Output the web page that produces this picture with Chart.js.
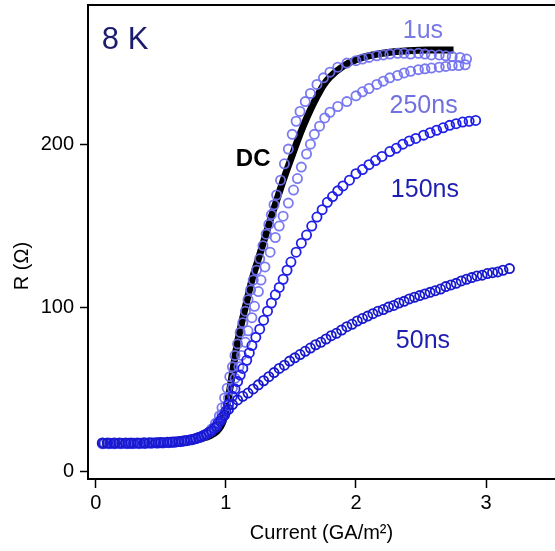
<!DOCTYPE html>
<html>
<head>
<meta charset="utf-8">
<script src="https://cdn.jsdelivr.net/npm/chart.js@4.4.1/dist/chart.umd.min.js"></script>
<style>
  html, body { margin: 0; padding: 0; background: #fff; }
</style>
</head>
<body>
<canvas id="g_resistencia" width="555" height="551"></canvas>
<script>
// R x corrente a 8 K: curva DC e pulsos de 50ns, 150ns, 250ns e 1us
const ticks_x = [0, 1, 2, 3]
const ticks_y = [0, 100, 200]

const curva_dc = [
  [0.05,17.0],[0.2,17.0],[0.4,17.2],[0.55,17.5],[0.65,18.0],[0.75,19.0],[0.82,20.3],[0.88,22.0],
  [0.93,24.5],[0.96,27.5],[0.98,31.0],[1.0,37.0],[1.02,45.5],[1.05,60.0],[1.08,75.0],[1.11,87.0],
  [1.16,104.0],[1.2,117.0],[1.25,130.0],[1.3,143.0],[1.35,156.0],[1.4,168.0],[1.45,180.0],[1.5,191.0],
  [1.55,202.0],[1.6,212.0],[1.65,221.0],[1.7,229.0],[1.75,236.0],[1.8,241.0],[1.9,247.5],[2.0,251.5],
  [2.1,254.0],[2.25,256.0],[2.4,257.0],[2.55,257.5],[2.75,257.5]
]

const pulso_1us = [
  [0.05,17.0],[0.10,17.0],[0.14,17.0],[0.19,17.0],[0.24,17.0],[0.28,17.1],[0.33,17.1],[0.37,17.2],
  [0.42,17.3],[0.47,17.4],[0.51,17.5],[0.56,17.7],[0.60,18.0],[0.65,18.3],[0.70,18.8],[0.74,19.5],
  [0.78,20.5],[0.82,21.8],[0.86,23.5],[0.89,26.0],[0.92,29.5],[0.95,34.0],[0.97,39.0],[0.99,45.0],
  [1.01,51.0],[1.03,58.0],[1.05,64.0],[1.07,71.0],[1.09,78.0],[1.11,85.0],[1.13,91.0],[1.15,98.0],
  [1.17,105.0],[1.19,111.0],[1.21,117.0],[1.235,123.0],[1.26,130.0],[1.285,138.0],[1.31,145.0],[1.33,151.0],
  [1.35,157.0],[1.37,163.0],[1.39,169.0],[1.42,178.0],[1.45,188.0],[1.48,197.0],[1.51,206.0],[1.54,214.0],
  [1.57,220.0],[1.61,226.0],[1.65,231.0],[1.70,236.5],[1.75,240.5],[1.80,244.0],[1.86,247.0],[1.93,249.5],
  [2.00,251.0],[2.05,252.0],[2.10,253.0],[2.16,254.0],[2.21,254.5],[2.26,255.0],[2.32,255.5],[2.37,255.5],
  [2.42,255.0],[2.48,255.5],[2.53,255.0],[2.58,254.5],[2.64,254.5],[2.69,254.0],[2.74,253.5],[2.80,253.0],
  [2.85,252.0]
]

const pulso_250ns = [
  [0.07,17.2],[0.12,17.2],[0.16,17.2],[0.21,17.2],[0.26,17.2],[0.30,17.3],[0.35,17.3],[0.39,17.4],
  [0.44,17.5],[0.49,17.6],[0.53,17.7],[0.58,17.9],[0.62,18.2],[0.67,18.6],[0.71,19.2],[0.76,20.0],
  [0.80,21.0],[0.84,22.5],[0.88,24.5],[0.91,27.0],[0.94,30.5],[0.97,35.0],[1.00,40.0],[1.02,45.0],
  [1.05,51.0],[1.07,57.0],[1.10,64.0],[1.12,71.0],[1.15,79.0],[1.17,86.0],[1.20,94.0],[1.22,101.0],
  [1.25,110.0],[1.27,117.0],[1.30,125.0],[1.34,134.0],[1.38,143.0],[1.41,150.0],[1.44,156.0],[1.48,164.0],
  [1.52,172.0],[1.55,179.0],[1.58,186.0],[1.62,194.0],[1.65,200.0],[1.68,206.0],[1.72,211.0],[1.76,216.0],
  [1.80,219.5],[1.86,223.0],[1.93,226.0],[2.00,229.5],[2.05,232.0],[2.10,234.0],[2.16,236.5],[2.21,238.5],
  [2.26,240.5],[2.32,242.0],[2.37,243.5],[2.42,244.5],[2.48,245.5],[2.53,246.0],[2.58,246.5],[2.64,247.0],
  [2.69,247.5],[2.74,248.0],[2.79,248.0],[2.84,248.5]
]

const pulso_150ns = [
  [0.06,17.3],[0.11,17.3],[0.15,17.3],[0.20,17.3],[0.25,17.3],[0.29,17.3],[0.34,17.4],[0.38,17.4],
  [0.43,17.5],[0.48,17.6],[0.52,17.7],[0.57,17.9],[0.61,18.1],[0.66,18.5],[0.70,19.0],[0.75,19.8],
  [0.79,20.8],[0.83,22.2],[0.87,24.0],[0.91,26.5],[0.94,29.5],[0.97,33.0],[1.00,37.0],[1.02,41.0],
  [1.05,46.0],[1.07,50.5],[1.09,55.0],[1.11,59.0],[1.13,63.0],[1.16,68.0],[1.18,72.5],[1.20,77.0],
  [1.23,82.0],[1.26,87.0],[1.29,92.5],[1.32,98.0],[1.35,103.0],[1.38,108.0],[1.41,112.5],[1.44,117.5],
  [1.47,123.0],[1.50,128.0],[1.54,134.0],[1.58,139.5],[1.62,144.5],[1.66,150.0],[1.70,155.5],[1.74,160.0],
  [1.78,164.5],[1.82,168.0],[1.86,171.5],[1.90,174.5],[1.95,178.0],[2.00,182.0],[2.05,184.5],[2.10,187.5],
  [2.15,190.0],[2.20,192.5],[2.26,195.5],[2.31,197.5],[2.36,200.0],[2.41,202.0],[2.46,203.5],[2.52,205.5],
  [2.57,207.0],[2.62,208.5],[2.67,210.0],[2.72,211.5],[2.77,212.5],[2.82,213.5],[2.87,214.0],[2.92,214.5]
]

const pulso_50ns = [
  [0.05,17.5],[0.09,17.5],[0.14,17.5],[0.18,17.5],[0.23,17.5],[0.27,17.5],[0.32,17.5],[0.37,17.6],
  [0.41,17.6],[0.46,17.7],[0.50,17.8],[0.55,17.9],[0.59,18.1],[0.64,18.4],[0.68,18.8],[0.73,19.4],
  [0.77,20.2],[0.81,21.3],[0.85,22.8],[0.89,24.8],[0.93,27.5],[0.96,31.0],[0.99,34.5],[1.02,38.0],
  [1.05,41.0],[1.09,43.8],[1.13,46.0],[1.17,48.0],[1.21,50.5],[1.25,53.0],[1.29,55.5],[1.33,58.0],
  [1.37,60.5],[1.41,63.0],[1.45,65.0],[1.49,67.5],[1.53,69.5],[1.57,71.5],[1.61,73.5],[1.65,75.5],
  [1.69,77.5],[1.73,79.0],[1.77,81.0],[1.81,83.0],[1.85,84.5],[1.89,86.5],[1.93,88.5],[1.97,90.0],
  [2.01,92.0],[2.05,93.5],[2.09,95.0],[2.13,96.5],[2.17,98.0],[2.21,99.0],[2.25,100.5],[2.29,101.5],
  [2.33,103.0],[2.37,104.0],[2.41,105.5],[2.45,106.5],[2.49,107.5],[2.53,108.5],[2.57,109.5],[2.61,110.5],
  [2.65,111.5],[2.69,113.0],[2.73,114.0],[2.77,115.0],[2.81,116.5],[2.85,117.5],[2.89,118.5],[2.93,119.5],
  [2.97,120.0],[3.01,121.0],[3.05,121.5],[3.09,122.0],[3.13,123.0],[3.18,124.0]
]

// textos soltos dentro do grafico, em coordenadas dos dados
const rotulos = [
  {texto: '8 K',   x: 0.046, y: 263.5, cor: '#1c1c6e', fonte: '31px "Liberation Sans", Arial, sans-serif', alinhamento: 'left'},
  {texto: '1us',   x: 2.515, y: 269,   cor: '#7a7ae6', fonte: '25px "Liberation Sans", Arial, sans-serif'},
  {texto: '250ns', x: 2.52,  y: 223,   cor: '#7070e0', fonte: '25px "Liberation Sans", Arial, sans-serif'},
  {texto: '150ns', x: 2.53,  y: 172,   cor: '#1e1eb0', fonte: '25px "Liberation Sans", Arial, sans-serif'},
  {texto: '50ns',  x: 2.515, y: 80,    cor: '#1e1eb0', fonte: '25px "Liberation Sans", Arial, sans-serif'},
  {texto: 'DC',    x: 1.21,  y: 191,   cor: '#000',    fonte: 'bold 24px "Liberation Sans", Arial, sans-serif'}
]

const fonte_eixo = {family: '"Liberation Sans", Arial, sans-serif', size: 20}

const para_pontos = lista => lista.map(([x, y]) => ({x, y}))

const serie_circulos = (label, dados, cor, ordem) => ({
  label: label,
  data: para_pontos(dados),
  showLine: false,
  pointStyle: 'circle',
  pointRadius: 4.6,
  pointBorderWidth: 1.8,
  pointBorderColor: cor,
  pointBackgroundColor: 'rgba(0,0,0,0)',
  borderColor: cor,
  order: ordem
})

const rotulos_plugin = {
  id: 'rotulos',
  afterDraw(chart) {
    const {ctx, chartArea, scales} = chart
    ctx.save()

    // linha de cima da moldura
    ctx.strokeStyle = '#000'
    ctx.lineWidth = 2
    ctx.beginPath()
    ctx.moveTo(chartArea.left, chartArea.top)
    ctx.lineTo(chartArea.right, chartArea.top)
    ctx.stroke()

    rotulos.forEach(r => {
      ctx.font = r.fonte
      ctx.fillStyle = r.cor
      ctx.textAlign = r.alinhamento || 'center'
      ctx.textBaseline = 'middle'
      ctx.fillText(r.texto, scales.x.getPixelForValue(r.x), scales.y.getPixelForValue(r.y))
    })

    // titulo do eixo y
    ctx.translate(22, 266)
    ctx.rotate(-Math.PI / 2)
    ctx.font = '20px "Liberation Sans", Arial, sans-serif'
    ctx.fillStyle = '#000'
    ctx.textAlign = 'center'
    ctx.textBaseline = 'middle'
    ctx.fillText('R (Ω)', 0, 0)
    ctx.restore()
  }
}

new Chart(document.getElementById('g_resistencia'), {
  type: 'scatter',
  data: {
    datasets: [
      serie_circulos('50ns', pulso_50ns, 'rgb(24,24,205)', 1),
      serie_circulos('150ns', pulso_150ns, 'rgb(32,32,232)', 2),
      serie_circulos('1us', pulso_1us, 'rgba(112,112,240,0.92)', 3),
      serie_circulos('250ns', pulso_250ns, 'rgba(112,112,240,0.92)', 4),
      {
        label: 'DC',
        data: para_pontos(curva_dc),
        showLine: true,
        borderColor: '#000',
        borderWidth: 7,
        pointRadius: 0,
        cubicInterpolationMode: 'monotone',
        order: 5
      }
    ]
  },
  options: {
    responsive: false,
    animation: false,
    layout: {autoPadding: false, padding: {top: 5, right: 0, left: 0, bottom: 0}},
    plugins: {
      legend: {display: false},
      tooltip: {enabled: false}
    },
    scales: {
      x: {
        type: 'linear',
        position: 'bottom',
        min: -0.06,
        max: 3.53,
        afterBuildTicks: axis => { axis.ticks = ticks_x.map(v => ({value: v})) },
        afterFit: axis => {
          axis.height = 72
          axis.paddingLeft = 0
          axis.paddingRight = 0
        },
        grid: {display: true, drawOnChartArea: false, drawTicks: true, tickLength: 9, tickColor: '#000', tickWidth: 1.5},
        border: {display: true, color: '#000', width: 2},
        ticks: {color: '#000', font: fonte_eixo, padding: 3, maxRotation: 0},
        title: {display: true, text: 'Current (GA/m²)', color: '#000', font: fonte_eixo, padding: {top: 0, bottom: 6}}
      },
      y: {
        type: 'linear',
        min: -4.5,
        max: 285,
        afterBuildTicks: axis => { axis.ticks = ticks_y.map(v => ({value: v})) },
        afterFit: axis => {
          axis.width = 88
          axis.paddingTop = 0
          axis.paddingBottom = 0
        },
        grid: {display: true, drawOnChartArea: false, drawTicks: true, tickLength: 8, tickColor: '#000', tickWidth: 1.5},
        border: {display: true, color: '#000', width: 2},
        ticks: {color: '#000', font: fonte_eixo, padding: 6}
      }
    }
  },
  plugins: [rotulos_plugin]
})
</script>
</body>
</html>
